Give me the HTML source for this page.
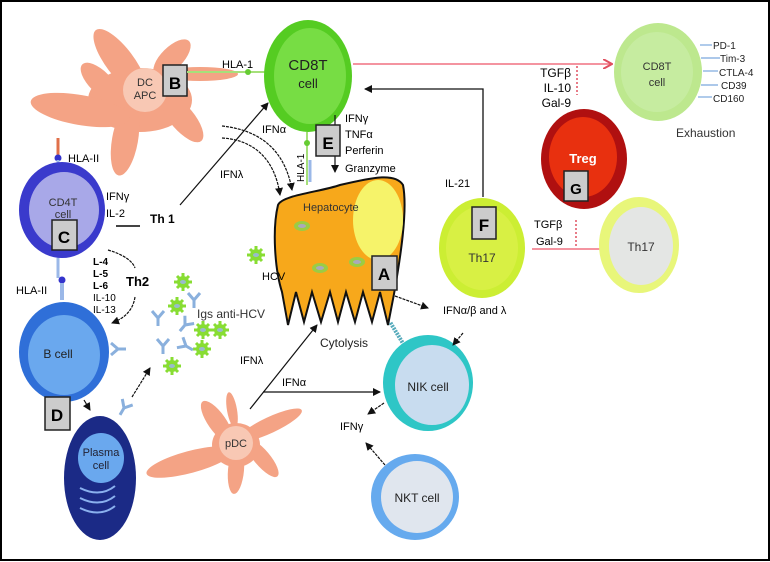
<!DOCTYPE html>
<html><head><meta charset="utf-8"><style>
html,body{margin:0;padding:0;background:#fff;}
svg{display:block;font-family:"Liberation Sans",sans-serif;}
</style></head><body>
<svg width="770" height="562" viewBox="0 0 770 562" xmlns="http://www.w3.org/2000/svg">
<defs>
<marker id="ah" markerWidth="8" markerHeight="8" refX="7" refY="4" orient="auto" markerUnits="userSpaceOnUse"><path d="M0,0 L8,4 L0,8 Z" fill="#111"/></marker>
<marker id="ar" markerWidth="10" markerHeight="10" refX="9" refY="5" orient="auto" markerUnits="userSpaceOnUse"><path d="M0,0 L9,5 L0,10" fill="none" stroke="#e05060" stroke-width="2"/></marker>
<g id="virus"><circle r="6" fill="#88dd33"/><path d="M-9,0 L9,0 M0,-9 L0,9 M-6,-6 L6,6 M-6,6 L6,-6" stroke="#88dd33" stroke-width="3"/><ellipse rx="3" ry="2" fill="#9bc"/></g>
<g id="ab" stroke="#8ab0dd" stroke-width="3" fill="none"><path d="M0,0 L0,8 M0,0 L-6,-7 M0,0 L6,-7"/></g>
</defs>
<rect x="1" y="1" width="768" height="559" fill="#fff" stroke="#000" stroke-width="2"/>

<!-- DC APC -->
<g fill="#f4a385">
<ellipse cx="140" cy="100" rx="52" ry="32"/>
<ellipse cx="120" cy="62" rx="40" ry="14" transform="rotate(53 120 62)"/>
<ellipse cx="172" cy="58" rx="24" ry="11" transform="rotate(-45 172 58)"/>
<ellipse cx="200" cy="74" rx="38" ry="7"/>
<ellipse cx="182" cy="118" rx="30" ry="12" transform="rotate(50 182 118)"/>
<ellipse cx="125" cy="140" rx="36" ry="13" transform="rotate(100 125 140)"/>
<ellipse cx="80" cy="110" rx="50" ry="15" transform="rotate(10 80 110)"/>
<ellipse cx="100" cy="82" rx="25" ry="11" transform="rotate(45 100 82)"/>
</g>
<circle cx="145" cy="90" r="22" fill="#f8c8b4"/>
<text x="145" y="86" font-size="11" text-anchor="middle" fill="#333">DC</text>
<text x="145" y="99" font-size="11" text-anchor="middle" fill="#333">APC</text>
<rect x="163" y="65" width="24" height="31" fill="#ccc" stroke="#222" stroke-width="1.5"/>
<text x="175" y="89" font-size="17" font-weight="bold" text-anchor="middle">B</text>
<line x1="187" y1="72" x2="268" y2="72" stroke="#a6e07a" stroke-width="2"/>
<circle cx="248" cy="72" r="3" fill="#66cc33"/>
<text x="222" y="68" font-size="11">HLA-1</text>

<!-- CD8T -->
<ellipse cx="308" cy="76" rx="44" ry="56" fill="#55cc22"/>
<ellipse cx="310" cy="76" rx="36" ry="48" fill="#77dd44"/>
<text x="308" y="70" font-size="15" text-anchor="middle" fill="#222">CD8T</text>
<text x="308" y="88" font-size="13" text-anchor="middle" fill="#222">cell</text>
<line x1="307" y1="132" x2="307" y2="185" stroke="#a6e07a" stroke-width="2"/>
<circle cx="307" cy="143" r="3" fill="#66cc33"/>
<line x1="310" y1="160" x2="310" y2="182" stroke="#9bb8e8" stroke-width="3"/>
<text transform="translate(304,182) rotate(-90)" font-size="10">HLA-1</text>
<line x1="335" y1="115" x2="335" y2="172" stroke="#111" stroke-width="1.2" marker-end="url(#ah)"/>
<rect x="316" y="125" width="24" height="31" fill="#ccc" stroke="#222" stroke-width="1.5"/>
<text x="328" y="149" font-size="17" font-weight="bold" text-anchor="middle">E</text>
<text x="345" y="122" font-size="11">IFNγ</text>
<text x="345" y="138" font-size="11">TNFα</text>
<text x="345" y="154" font-size="11">Perferin</text>
<text x="345" y="172" font-size="11">Granzyme</text>

<path d="M222,126 C260,130 285,150 292,190" fill="none" stroke="#111" stroke-width="1.2" stroke-dasharray="3,1" marker-end="url(#ah)"/>
<path d="M222,138 C255,140 275,160 280,195" fill="none" stroke="#111" stroke-width="1.2" stroke-dasharray="3,1" marker-end="url(#ah)"/>
<text x="262" y="133" font-size="11">IFNα</text>
<text x="220" y="178" font-size="11">IFNλ</text>
<line x1="180" y1="205" x2="268" y2="103" stroke="#111" stroke-width="1.2" marker-end="url(#ah)"/>

<!-- Hepatocyte -->
<path d="M278,205 C282,195 320,192 340,185 C370,178 395,172 403,185 C408,210 400,260 394,294 L388,325 L380,292 L372,322 L363,292 L355,322 L346,292 L338,322 L330,292 L321,322 L312,292 L304,322 L296,292 L288,325 L282,292 C275,270 272,230 278,205 Z" fill="#f7a81b" stroke="#111" stroke-width="2"/>
<ellipse cx="378" cy="220" rx="25" ry="40" fill="#f6f36a"/>
<text x="303" y="211" font-size="11" fill="#333">Hepatocyte</text>
<ellipse cx="302" cy="226" rx="8" ry="5" fill="#9bcc44"/><ellipse cx="302" cy="226" rx="4" ry="2" fill="#aab"/>
<ellipse cx="320" cy="268" rx="8" ry="5" fill="#9bcc44"/><ellipse cx="320" cy="268" rx="4" ry="2" fill="#aab"/>
<ellipse cx="357" cy="262" rx="8" ry="5" fill="#9bcc44"/><ellipse cx="357" cy="262" rx="4" ry="2" fill="#aab"/>
<rect x="372" y="256" width="25" height="34" fill="#ccc" stroke="#222" stroke-width="1.5"/>
<text x="384" y="280" font-size="17" font-weight="bold" text-anchor="middle">A</text>
<text x="320" y="347" font-size="12" fill="#222">Cytolysis</text>
<line x1="395" y1="296" x2="428" y2="308" stroke="#111" stroke-width="1.2" stroke-dasharray="3,1" marker-end="url(#ah)"/>
<text x="443" y="314" font-size="11">IFNα/β and λ</text>
<line x1="404" y1="345" x2="390" y2="322" stroke="#5ab" stroke-width="4" stroke-dasharray="2,1"/>

<use href="#virus" x="256" y="255"/>
<text x="262" y="280" font-size="11">HCV</text>

<!-- CD4T -->
<line x1="58" y1="138" x2="58" y2="158" stroke="#e0704a" stroke-width="3"/>
<circle cx="58" cy="158" r="3.5" fill="#3333cc"/>
<line x1="58" y1="160" x2="58" y2="170" stroke="#9bb8e8" stroke-width="3"/>
<text x="68" y="162" font-size="11">HLA-II</text>
<ellipse cx="62" cy="210" rx="43" ry="48" fill="#3a3acc"/>
<ellipse cx="64" cy="210" rx="35" ry="38" fill="#a8a8e8"/>
<text x="63" y="206" font-size="11" text-anchor="middle" fill="#333">CD4T</text>
<text x="63" y="218" font-size="11" text-anchor="middle" fill="#333">cell</text>
<rect x="52" y="220" width="25" height="30" fill="#ccc" stroke="#222" stroke-width="1.5"/>
<text x="64" y="243" font-size="17" font-weight="bold" text-anchor="middle">C</text>
<text x="106" y="200" font-size="11">IFNγ</text>
<text x="106" y="217" font-size="11">IL-2</text>
<line x1="116" y1="226" x2="140" y2="226" stroke="#444" stroke-width="2"/>
<text x="150" y="223" font-size="12" font-weight="bold">Th 1</text>
<line x1="58" y1="258" x2="58" y2="278" stroke="#9bb8e8" stroke-width="3"/>
<circle cx="62" cy="280" r="3.5" fill="#3333cc"/>
<line x1="62" y1="283" x2="62" y2="300" stroke="#9bb8e8" stroke-width="4"/>
<text x="93" y="265" font-size="10" font-weight="bold">L-4</text>
<text x="93" y="277" font-size="10" font-weight="bold">L-5</text>
<text x="93" y="289" font-size="10" font-weight="bold">L-6</text>
<text x="93" y="301" font-size="10">IL-10</text>
<text x="93" y="313" font-size="10">IL-13</text>
<text x="126" y="286" font-size="13" font-weight="bold">Th2</text>
<path d="M108,250 C125,255 133,262 135,268" fill="none" stroke="#111" stroke-width="1.2" stroke-dasharray="3,1"/>
<path d="M135,297 C133,310 125,318 112,323" fill="none" stroke="#111" stroke-width="1.2" stroke-dasharray="3,1" marker-end="url(#ah)"/>

<!-- B cell -->
<text x="16" y="294" font-size="11">HLA-II</text>
<ellipse cx="64" cy="352" rx="45" ry="50" fill="#2f6fd8"/>
<ellipse cx="64" cy="355" rx="36" ry="40" fill="#6aa8ee"/>
<text x="58" y="358" font-size="12" text-anchor="middle" fill="#222">B cell</text>
<use href="#ab" x="118" y="349" transform="rotate(-90 118 349)"/>
<rect x="45" y="397" width="25" height="33" fill="#ccc" stroke="#222" stroke-width="1.5"/>
<text x="57" y="421" font-size="17" font-weight="bold" text-anchor="middle">D</text>
<line x1="84" y1="400" x2="90" y2="410" stroke="#111" stroke-width="1.2" marker-end="url(#ah)"/>
<ellipse cx="100" cy="478" rx="36" ry="62" fill="#1b2a86"/>
<ellipse cx="101" cy="458" rx="23" ry="25" fill="#6aa8ee"/>
<text x="101" y="456" font-size="11" text-anchor="middle" fill="#223">Plasma</text>
<text x="101" y="469" font-size="11" text-anchor="middle" fill="#223">cell</text>
<path d="M80,488 Q100,498 115,486 M80,498 Q100,508 115,496 M80,508 Q100,518 115,506" fill="none" stroke="#8ab0ee" stroke-width="2"/>
<use href="#ab" x="124" y="408" transform="rotate(30 124 408)"/>
<line x1="132" y1="397" x2="150" y2="368" stroke="#111" stroke-width="1.2" stroke-dasharray="3,1" marker-end="url(#ah)"/>

<use href="#virus" x="183" y="282"/>
<use href="#virus" x="177" y="306"/>
<use href="#virus" x="203" y="330"/>
<use href="#virus" x="220" y="330"/>
<use href="#virus" x="202" y="349"/>
<use href="#virus" x="172" y="366"/>
<use href="#ab" x="194" y="300"/>
<use href="#ab" x="158" y="318"/>
<use href="#ab" x="185" y="325" transform="rotate(40 185 325)"/>
<use href="#ab" x="163" y="346"/>
<use href="#ab" x="186" y="346" transform="rotate(-60 186 346)"/>
<text x="197" y="318" font-size="12" fill="#333">Igs anti-HCV</text>

<!-- pDC -->
<g fill="#f4a385">
<ellipse cx="236" cy="445" rx="24" ry="22"/>
<ellipse cx="190" cy="462" rx="45" ry="11" transform="rotate(-15 190 462)"/>
<ellipse cx="217" cy="422" rx="25" ry="9" transform="rotate(55 217 422)"/>
<ellipse cx="232" cy="410" rx="18" ry="5" transform="rotate(80 232 410)"/>
<ellipse cx="270" cy="425" rx="35" ry="8" transform="rotate(-25 270 425)"/>
<ellipse cx="262" cy="458" rx="24" ry="8" transform="rotate(50 262 458)"/>
<ellipse cx="236" cy="470" rx="24" ry="8" transform="rotate(95 236 470)"/>
</g>
<circle cx="236" cy="443" r="17" fill="#f8c8b4"/>
<text x="236" y="447" font-size="11" text-anchor="middle" fill="#333">pDC</text>
<line x1="250" y1="409" x2="317" y2="325" stroke="#111" stroke-width="1.2" marker-end="url(#ah)"/>
<line x1="263" y1="392" x2="380" y2="392" stroke="#111" stroke-width="1.2" marker-end="url(#ah)"/>
<text x="240" y="364" font-size="11">IFNλ</text>
<text x="282" y="386" font-size="11">IFNα</text>

<!-- NIK -->
<ellipse cx="428" cy="383" rx="45" ry="48" fill="#2ec6c6"/>
<ellipse cx="432" cy="385" rx="37" ry="40" fill="#c8dcef"/>
<text x="428" y="391" font-size="12" text-anchor="middle" fill="#222">NIK cell</text>
<line x1="463" y1="333" x2="453" y2="345" stroke="#111" stroke-width="1.2" stroke-dasharray="3,1" marker-end="url(#ah)"/>
<line x1="384" y1="403" x2="368" y2="414" stroke="#111" stroke-width="1.2" stroke-dasharray="3,1" marker-end="url(#ah)"/>
<text x="340" y="430" font-size="11">IFNγ</text>
<line x1="385" y1="465" x2="366" y2="443" stroke="#111" stroke-width="1.2" stroke-dasharray="3,1" marker-end="url(#ah)"/>
<ellipse cx="415" cy="497" rx="44" ry="43" fill="#66aaee"/>
<ellipse cx="417" cy="497" rx="36" ry="36" fill="#e0e6ee"/>
<text x="417" y="502" font-size="12" text-anchor="middle" fill="#222">NKT cell</text>

<!-- Th17 F -->
<path d="M483,197 L483,89 L365,89" fill="none" stroke="#111" stroke-width="1.3" marker-end="url(#ah)"/>
<text x="445" y="187" font-size="11">IL-21</text>
<ellipse cx="482" cy="248" rx="43" ry="50" fill="#ccee33"/>
<ellipse cx="482" cy="248" rx="36" ry="42" fill="#d8f044"/>
<rect x="472" y="207" width="24" height="32" fill="#ccc" stroke="#222" stroke-width="1.5"/>
<text x="484" y="231" font-size="17" font-weight="bold" text-anchor="middle">F</text>
<text x="482" y="262" font-size="12" text-anchor="middle" fill="#333">Th17</text>
<line x1="532" y1="249" x2="630" y2="249" stroke="#f07080" stroke-width="1.5" marker-end="url(#ar)"/>
<line x1="576" y1="220" x2="576" y2="248" stroke="#e05060" stroke-width="1.5" stroke-dasharray="2,2"/>
<text x="534" y="228" font-size="11">TGFβ</text>
<text x="536" y="245" font-size="11">Gal-9</text>

<ellipse cx="584" cy="159" rx="43" ry="50" fill="#b01010"/>
<ellipse cx="583" cy="157" rx="34" ry="40" fill="#e8300f"/>
<text x="583" y="163" font-size="13" font-weight="bold" text-anchor="middle" fill="#fff">Treg</text>
<rect x="564" y="171" width="24" height="30" fill="#ccc" stroke="#222" stroke-width="1.5"/>
<text x="576" y="194" font-size="15" font-weight="bold" text-anchor="middle">G</text>

<line x1="353" y1="64" x2="612" y2="64" stroke="#f07080" stroke-width="1.5" marker-end="url(#ar)"/>
<line x1="577" y1="66" x2="577" y2="95" stroke="#e05060" stroke-width="1.5" stroke-dasharray="2,2"/>
<text x="571" y="77" font-size="12" text-anchor="end">TGFβ</text>
<text x="571" y="92" font-size="12" text-anchor="end">IL-10</text>
<text x="571" y="107" font-size="12" text-anchor="end">Gal-9</text>
<ellipse cx="658" cy="72" rx="44" ry="49" fill="#bde88e"/>
<ellipse cx="657" cy="72" rx="36" ry="40" fill="#c6eca0"/>
<text x="657" y="70" font-size="11" text-anchor="middle" fill="#333">CD8T</text>
<text x="657" y="86" font-size="11" text-anchor="middle" fill="#333">cell</text>
<g stroke="#7aa8dd" stroke-width="1.2">
<line x1="700" y1="45" x2="712" y2="45"/><line x1="701" y1="58" x2="720" y2="58"/><line x1="703" y1="71" x2="718" y2="71"/><line x1="701" y1="85" x2="718" y2="85"/><line x1="698" y1="97" x2="712" y2="97"/></g>
<g font-size="10" fill="#222">
<text x="713" y="49">PD-1</text><text x="720" y="62">Tim-3</text><text x="719" y="76">CTLA-4</text><text x="721" y="89">CD39</text><text x="713" y="102">CD160</text></g>
<text x="676" y="137" font-size="12" fill="#333">Exhaustion</text>

<ellipse cx="639" cy="245" rx="40" ry="48" fill="#e8f67a"/>
<ellipse cx="641" cy="246" rx="32" ry="39" fill="#e4e6e4"/>
<text x="641" y="251" font-size="12" text-anchor="middle" fill="#333">Th17</text>
</svg>
</body></html>
